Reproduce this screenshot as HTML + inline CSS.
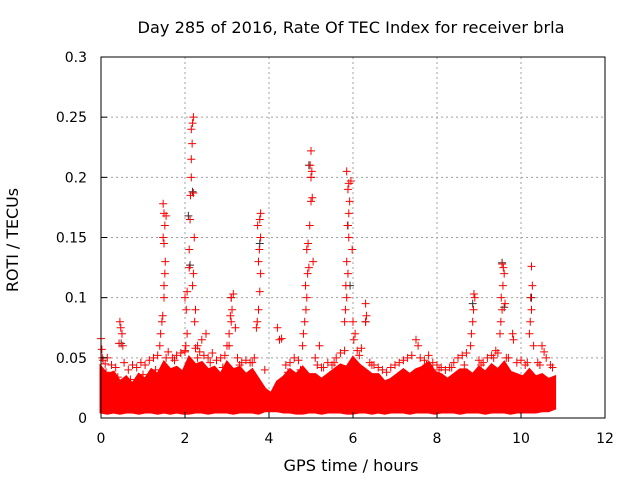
<!DOCTYPE html>
<html><head><meta charset="utf-8"><style>
body{margin:0;background:#fff}
svg{display:block;font-family:"DejaVu Sans","Liberation Sans",sans-serif}
</style></head><body>
<svg id="chart" width="640" height="480">
<text x="351" y="33" font-size="16" textLength="427" lengthAdjust="spacingAndGlyphs" text-anchor="middle">Day 285 of 2016, Rate Of TEC Index for receiver brla</text>
<text x="351" y="471" font-size="16" textLength="135" lengthAdjust="spacingAndGlyphs" text-anchor="middle">GPS time / hours</text>
<text transform="translate(18,240) rotate(-90)" font-size="16" textLength="104" lengthAdjust="spacingAndGlyphs" text-anchor="middle">ROTI / TECUs</text>
<g id="grid"></g><g id="band"></g><g id="marks"></g><g id="axes"></g>
</svg>
<script>
const xTicks=[0,2,4,6,8,10,12];
const yTicks=[0,0.05,0.1,0.15,0.2,0.25,0.3];
const yTickLabels=["0","0.05","0.1","0.15","0.2","0.25","0.3"];
const bandTimes=[0,0.15,0.3,0.45,0.6,0.75,0.9,1.05,1.2,1.35,1.5,1.65,1.8,1.95,2.1,2.25,2.4,2.55,2.7,2.85,3.0,3.15,3.3,3.45,3.6,3.75,3.9,4.05,4.2,4.35,4.5,4.65,4.8,4.95,5.1,5.25,5.4,5.55,5.7,5.85,6.0,6.15,6.3,6.45,6.6,6.75,6.9,7.05,7.2,7.35,7.5,7.65,7.8,7.95,8.1,8.25,8.4,8.55,8.7,8.85,9.0,9.15,9.3,9.45,9.6,9.75,9.9,10.05,10.2,10.35,10.5,10.65,10.8];
const bandUpper=[0.042,0.036,0.038,0.03,0.034,0.028,0.036,0.032,0.04,0.036,0.046,0.04,0.042,0.038,0.05,0.044,0.046,0.04,0.042,0.036,0.046,0.04,0.042,0.036,0.04,0.032,0.024,0.02,0.03,0.034,0.04,0.036,0.042,0.036,0.036,0.032,0.036,0.04,0.044,0.042,0.05,0.044,0.04,0.036,0.036,0.03,0.032,0.036,0.04,0.036,0.04,0.042,0.046,0.038,0.036,0.032,0.036,0.04,0.04,0.036,0.042,0.038,0.044,0.04,0.046,0.038,0.036,0.034,0.04,0.034,0.036,0.032,0.034];
const bandLower=[0.005,0.004,0.005,0.004,0.005,0.005,0.004,0.005,0.005,0.004,0.005,0.004,0.005,0.004,0.004,0.005,0.005,0.004,0.005,0.005,0.005,0.004,0.005,0.005,0.005,0.004,0.006,0.006,0.006,0.005,0.005,0.004,0.004,0.005,0.005,0.004,0.005,0.005,0.005,0.004,0.004,0.005,0.005,0.004,0.005,0.004,0.005,0.005,0.005,0.004,0.005,0.005,0.005,0.004,0.005,0.005,0.005,0.004,0.005,0.005,0.005,0.004,0.005,0.005,0.005,0.004,0.005,0.005,0.005,0.005,0.006,0.006,0.008];
const spikeTimes=[0,0.02,0.03,0.45,0.47,0.5,0.43,0.52,1.4,1.42,1.45,1.47,1.5,1.5,1.52,1.53,1.5,1.48,1.52,1.55,1.5,1.48,2.0,2.02,2.05,2.03,2.0,2.05,2.1,2.1,2.12,2.13,2.15,2.15,2.17,2.15,2.2,2.18,2.2,2.22,2.2,2.18,2.25,2.23,2.3,2.4,2.5,3.0,3.05,3.1,3.08,3.12,3.1,3.15,3.2,3.7,3.72,3.75,3.78,3.8,3.75,3.77,3.8,3.73,3.78,3.8,4.2,4.25,4.8,4.82,4.85,4.88,4.9,4.87,4.92,4.95,4.9,4.93,4.97,5.0,5.0,5.02,4.98,5.0,5.03,5.05,5.2,5.8,5.82,5.85,5.83,5.88,5.85,5.9,5.87,5.9,5.92,5.88,5.9,5.85,5.95,5.98,6.0,6.05,6.02,6.3,6.32,6.3,7.5,7.55,8.8,8.82,8.85,8.87,8.9,8.88,9.5,9.52,9.55,9.53,9.57,9.6,9.58,9.55,9.62,9.8,9.82,10.2,10.22,10.25,10.23,10.27,10.25,10.3,10.5,10.55,
0.05,0.1,0.15,0.25,0.35,0.55,0.65,0.75,0.85,0.95,1.05,1.15,1.25,1.35,1.6,1.7,1.8,1.9,2.25,2.35,2.45,2.55,2.65,2.75,2.85,2.95,3.25,3.35,3.45,3.55,3.65,3.9,4.3,4.4,4.5,4.6,4.7,5.1,5.15,5.3,5.4,5.5,5.6,5.7,6.1,6.2,6.4,6.5,6.6,6.7,6.8,6.9,7.0,7.1,7.2,7.3,7.4,7.6,7.7,7.8,7.9,8.0,8.1,8.2,8.3,8.4,8.5,8.6,8.7,9.0,9.1,9.2,9.3,9.4,9.7,9.9,10.0,10.1,10.4,10.6,10.7,10.75,
0.12,0.4,0.7,1.0,1.3,1.55,1.75,2.0,2.3,2.6,2.9,3.05,3.3,3.6,4.45,4.75,5.25,5.55,5.8,6.15,6.45,7.75,8.05,8.35,8.65,9.05,9.35,9.45,9.65,10.15,10.45];
const spikeValues=[0.066,0.057,0.05,0.08,0.075,0.07,0.062,0.06,0.06,0.07,0.08,0.085,0.1,0.11,0.12,0.13,0.145,0.15,0.16,0.168,0.17,0.178,0.055,0.06,0.07,0.09,0.1,0.105,0.125,0.14,0.165,0.185,0.2,0.215,0.228,0.24,0.25,0.245,0.187,0.15,0.12,0.11,0.09,0.08,0.06,0.065,0.07,0.06,0.07,0.08,0.085,0.09,0.1,0.103,0.075,0.075,0.08,0.09,0.105,0.12,0.13,0.14,0.15,0.16,0.165,0.17,0.075,0.065,0.06,0.07,0.08,0.09,0.1,0.11,0.12,0.125,0.14,0.145,0.16,0.18,0.2,0.205,0.21,0.222,0.183,0.13,0.06,0.08,0.09,0.1,0.11,0.12,0.13,0.15,0.16,0.17,0.18,0.19,0.195,0.205,0.197,0.14,0.08,0.07,0.065,0.095,0.085,0.08,0.065,0.06,0.06,0.07,0.08,0.09,0.1,0.103,0.07,0.08,0.09,0.1,0.11,0.12,0.125,0.128,0.095,0.07,0.065,0.07,0.08,0.09,0.1,0.11,0.126,0.06,0.06,0.055,
0.048,0.045,0.05,0.044,0.042,0.046,0.04,0.044,0.042,0.046,0.044,0.048,0.05,0.052,0.055,0.05,0.052,0.054,0.058,0.055,0.052,0.05,0.054,0.048,0.05,0.052,0.05,0.046,0.048,0.046,0.05,0.04,0.066,0.044,0.046,0.05,0.048,0.05,0.044,0.042,0.046,0.044,0.05,0.054,0.056,0.058,0.046,0.044,0.042,0.04,0.038,0.042,0.044,0.046,0.048,0.05,0.052,0.05,0.048,0.052,0.046,0.044,0.042,0.04,0.042,0.046,0.05,0.052,0.054,0.048,0.046,0.05,0.052,0.056,0.05,0.046,0.048,0.044,0.046,0.05,0.044,0.042,
0.038,0.034,0.032,0.036,0.04,0.05,0.048,0.056,0.05,0.046,0.042,0.06,0.044,0.046,0.038,0.04,0.042,0.046,0.056,0.052,0.044,0.044,0.04,0.042,0.044,0.044,0.05,0.054,0.05,0.046,0.044];
const blackTimes=[0.48,2.08,2.12,2.18,3.1,3.78,4.95,5.0,5.88,5.93,6.3,8.85,9.55,9.6,10.25];
const blackValues=[0.062,0.168,0.127,0.188,0.1,0.145,0.21,0.2,0.16,0.11,0.08,0.095,0.129,0.092,0.1];

const X0=101,X1=605,Y0=418,Y1=57;
const xs=t=>X0+(t/12)*(X1-X0);
const ys=v=>Y0-(v/0.3)*(Y0-Y1);
const NS="http://www.w3.org/2000/svg";
function mk(tag,parent){const e=document.createElementNS(NS,tag);document.getElementById(parent).appendChild(e);return e;}

xTicks.forEach((t,i)=>{
  if(i>0&&i<xTicks.length-1){const g=mk('line','grid');
  
  
  g.setAttribute('x1',xs(t));g.setAttribute('x2',xs(t));g.setAttribute('y1',Y1);g.setAttribute('y2',Y0);
  g.setAttribute('stroke','#a0a0a0');g.setAttribute('stroke-dasharray','2,3');}
  const tk=mk('line','axes');
  
  
  tk.setAttribute('x1',xs(t));tk.setAttribute('x2',xs(t));tk.setAttribute('y1',Y0);tk.setAttribute('y2',Y0-6);tk.setAttribute('stroke','#000');
  const tl=mk('text','axes');
  
  
  tl.setAttribute('x',xs(t));tl.setAttribute('y',443);tl.setAttribute('font-size','14');tl.setAttribute('text-anchor','middle');tl.textContent=t;
});
yTicks.forEach((v,i)=>{
  if(i>0&&i<yTicks.length-1){const g=mk('line','grid');
  
  
  g.setAttribute('x1',X0);g.setAttribute('x2',X1);g.setAttribute('y1',ys(v));g.setAttribute('y2',ys(v));
  g.setAttribute('stroke','#a0a0a0');g.setAttribute('stroke-dasharray','2,3');}
  const tk=mk('line','axes');
  
  
  tk.setAttribute('x1',X0);tk.setAttribute('x2',X0+6);tk.setAttribute('y1',ys(v));tk.setAttribute('y2',ys(v));tk.setAttribute('stroke','#000');
  const tl=mk('text','axes');
  
  
  tl.setAttribute('x',87);tl.setAttribute('y',ys(v)+5);tl.setAttribute('font-size','14');tl.setAttribute('text-anchor','end');tl.textContent=yTickLabels[i];
});
const fr=mk('rect','axes');


fr.setAttribute('x',X0);fr.setAttribute('y',Y1);fr.setAttribute('width',X1-X0);fr.setAttribute('height',Y0-Y1);fr.setAttribute('fill','none');fr.setAttribute('stroke','#000');

let d='';
bandTimes.forEach((t,i)=>{d+=(i?'L':'M')+xs(t)+','+ys(bandUpper[i]);});
for(let i=bandTimes.length-1;i>=0;i--){d+='L'+xs(bandTimes[i])+','+ys(bandLower[i]);}
const band=mk('path','band');


band.setAttribute('d',d+'Z');band.setAttribute('fill','#ff0000');band.setAttribute('stroke','#ff0000');band.setAttribute('stroke-width','3');band.setAttribute('stroke-linejoin','miter');

function plus(t,v,color,name){
  const p=mk('path','marks');
  
  
  const x=xs(t),y=ys(v);
  p.setAttribute('d',`M${x-4},${y}H${x+4}M${x},${y-4}V${y+4}`);
  p.setAttribute('stroke',color);p.setAttribute('stroke-width','1');
}
blackTimes.forEach((t,i)=>plus(t,blackValues[i],'#333','black-point'));
spikeTimes.forEach((t,i)=>plus(t,spikeValues[i],'#ff0000','roti-point'));
</script>
</body></html>
